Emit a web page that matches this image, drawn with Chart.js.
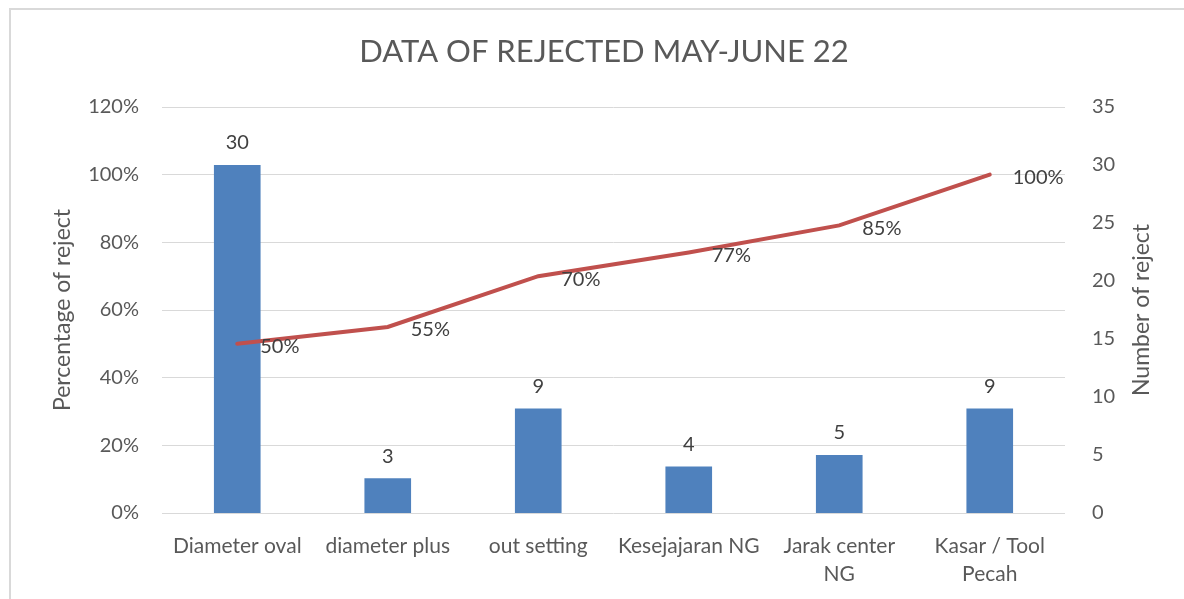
<!DOCTYPE html>
<html>
<head>
<meta charset="utf-8">
<script src="https://cdn.jsdelivr.net/npm/chart.js@4/dist/chart.umd.min.js"></script>
<style>
  html, body { margin: 0; padding: 0; background: #fff; }
  #wrap { position: relative; width: 1184px; height: 599px; overflow: hidden; }
  #frame { position: absolute; left: 9px; top: 8px; width: 1200px; height: 620px; border: 2px solid #d9d9d9; box-sizing: border-box; pointer-events: none; }
  canvas { position: absolute; left: 0; top: 0; }
</style>
</head>
<body>
<div id="wrap">
  <canvas id="c" width="1184" height="599"></canvas>
  <div id="frame"></div>
</div>
<script>
const chartTitle = "DATA OF REJECTED MAY-JUNE 22";
const categories = ["Diameter oval", "diameter plus", "out setting", "Kesejajaran NG", ["Jarak center", "NG"], ["Kasar / Tool", "Pecah"]];
const rejectCounts = [30, 3, 9, 4, 5, 9];
const cumulativePct = [0.50, 0.55, 0.70, 0.77, 0.85, 1.00];
const pctLabels = ["50%", "55%", "70%", "77%", "85%", "100%"];
const leftAxisTitle = "Percentage of reject";
const rightAxisTitle = "Number of reject";

const FONT = "Lato, 'Open Sans', sans-serif";
const TXT = "#595959";

const labelPlugin = {
  id: 'labels',
  afterDatasetsDraw(chart) {
    const ctx = chart.ctx;
    ctx.save();
    ctx.font = "20px " + FONT;
    ctx.fillStyle = "#404040";
    const barMeta = chart.getDatasetMeta(1);
    barMeta.data.forEach((el, i) => {
      ctx.textAlign = "center";
      ctx.textBaseline = "middle";
      ctx.fillText(String(rejectCounts[i]), el.x, el.y - 22);
    });
    const lineMeta = chart.getDatasetMeta(0);
    lineMeta.data.forEach((el, i) => {
      ctx.textAlign = "left";
      ctx.textBaseline = "middle";
      ctx.fillText(pctLabels[i], el.x + 23, el.y + 3);
    });
    ctx.restore();
  },
  afterDraw(chart) {
    const ctx = chart.ctx;
    const area = chart.chartArea;
    ctx.save();
    ctx.font = "31px " + FONT;
    ctx.fillStyle = TXT;
    ctx.textAlign = "center";
    ctx.textBaseline = "middle";
    ctx.fillText(chartTitle, 604, 52);
    // right axis title, reading bottom-to-top
    ctx.font = "23px " + FONT;
    ctx.translate(1142, (area.top + area.bottom) / 2);
    ctx.rotate(-Math.PI / 2);
    ctx.fillText(rightAxisTitle, 0, 0);
    ctx.restore();
  }
};

new Chart(document.getElementById('c'), {
  data: {
    labels: categories,
    datasets: [
      {
        type: 'line',
        label: 'Cumulative %',
        data: cumulativePct,
        yAxisID: 'y',
        borderColor: '#C0504D',
        borderWidth: 4,
        borderCapStyle: 'round',
        pointRadius: 0,
        tension: 0,
        order: 0
      },
      {
        type: 'bar',
        label: 'Number of reject',
        data: rejectCounts,
        yAxisID: 'y1',
        backgroundColor: '#4F81BD',
        categoryPercentage: 1,
        barPercentage: 0.31,
        order: 1
      }
    ]
  },
  options: {
    responsive: false,
    animation: false,
    layout: { padding: { top: 107, left: 0, right: 0, bottom: 0 } },
    plugins: {
      legend: { display: false },
      tooltip: { enabled: false },
      title: { display: false }
    },
    scales: {
      x: {
        grid: { display: false, drawTicks: false },
        border: { display: false },
        ticks: {
          autoSkip: false, maxRotation: 0, minRotation: 0,
          color: TXT, padding: 19,
          font: { family: FONT, size: 21, lineHeight: 1.33 }
        },
        afterFit(s) { s.height = 86; }
      },
      y: {
        position: 'left',
        min: 0, max: 1.2,
        grid: { color: '#d9d9d9', lineWidth: 1, drawTicks: false },
        border: { display: false },
        ticks: {
          stepSize: 0.2, color: TXT, padding: 23,
          font: { family: FONT, size: 20 },
          callback: v => Math.round(v * 100) + '%'
        },
        title: {
          display: true, text: leftAxisTitle, color: TXT,
          font: { family: FONT, size: 23 }, padding: { top: 49, bottom: 0 }
        },
        afterFit(s) { s.width = 162; }
      },
      y1: {
        position: 'right',
        min: 0, max: 35,
        grid: { display: false, drawTicks: false },
        border: { display: false },
        ticks: {
          stepSize: 5, color: TXT, padding: 27,
          font: { family: FONT, size: 20 }
        },
        title: { display: false },
        afterFit(s) { s.width = 119; }
      }
    }
  },
  plugins: [labelPlugin]
});
</script>
</body>
</html>
